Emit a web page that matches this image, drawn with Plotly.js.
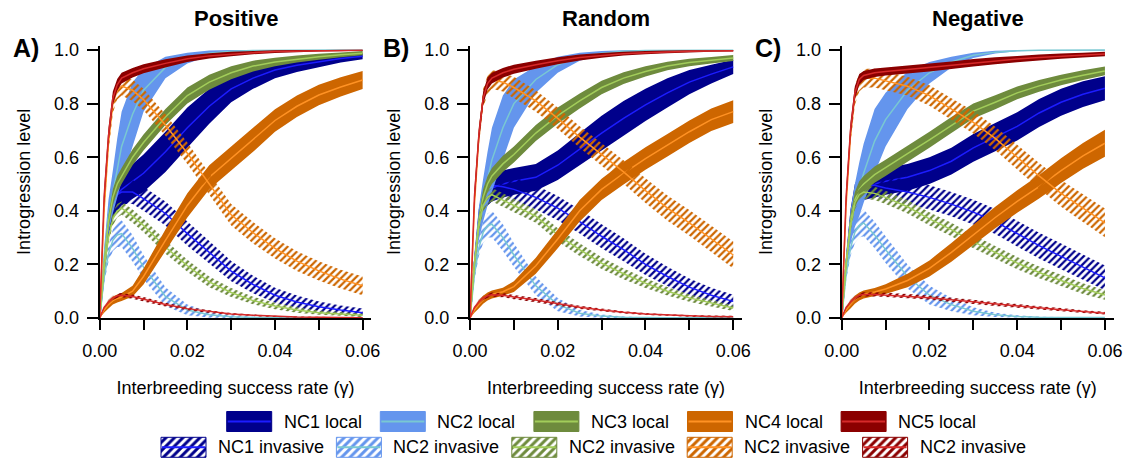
<!DOCTYPE html>
<html><head><meta charset="utf-8">
<script src="https://cdn.plot.ly/plotly-3.0.1.min.js"></script>
<style>html,body{margin:0;padding:0;background:#fff}#chart{width:1128px;height:464px}</style>
</head><body><div id="chart"></div>
<script>
// ---------------- DATA ----------------
const gammaX = [0,0.001,0.002,0.003,0.004,0.005,0.0075,0.01,0.015,0.02,0.025,0.03,0.035,0.04,0.045,0.05,0.055,0.06];
const panelTitles = ['Positive','Random','Negative'];
const panelLabels = ['A)','B)','C)'];
const localNames = ['NC1 local','NC2 local','NC3 local','NC4 local','NC5 local'];
const invasiveNames = ['NC1 invasive','NC2 invasive','NC2 invasive','NC2 invasive','NC2 invasive'];
const xTickVals = [0,0.01,0.02,0.03,0.04,0.05,0.06];
const xTickText = ['0.00','','0.02','','0.04','','0.06'];
const yTickVals = [0,0.2,0.4,0.6,0.8,1.0];
const xTitle = 'Interbreeding success rate (\u03b3)';
const yTitle = 'Introgression level';

// Panel A: Positive  (mean and half-width of the band)
const posNC1LocalMean = [0,0.2,0.36,0.43,0.46,0.48,0.51,0.54,0.62,0.71,0.79,0.855,0.895,0.925,0.943,0.956,0.968,0.977];
const posNC1LocalHW   = [0,0.03,0.05,0.06,0.06,0.06,0.065,0.07,0.075,0.075,0.065,0.05,0.04,0.03,0.025,0.02,0.015,0.012];
const posNC1InvMean   = [0,0.18,0.33,0.42,0.46,0.47,0.47,0.445,0.39,0.315,0.245,0.175,0.125,0.085,0.06,0.042,0.03,0.02];
const posNC1InvHW     = [0,0.02,0.03,0.04,0.045,0.045,0.045,0.045,0.045,0.045,0.042,0.038,0.033,0.028,0.024,0.02,0.017,0.015];
const posNC2LocalMean = [0,0.22,0.38,0.47,0.56,0.64,0.76,0.85,0.935,0.97,0.988,0.995,0.998,0.999,0.999,1,1,1];
const posNC2LocalHW   = [0,0.04,0.06,0.08,0.11,0.13,0.12,0.08,0.04,0.02,0.01,0.005,0.002,0.002,0.002,0.002,0.002,0.002];
const posNC2InvMean   = [0,0.15,0.24,0.29,0.31,0.315,0.26,0.19,0.08,0.03,0.012,0.005,0.002,0.001,0.001,0.001,0.001,0.001];
const posNC2InvHW     = [0,0.02,0.03,0.04,0.045,0.05,0.05,0.045,0.035,0.02,0.01,0.005,0.003,0.002,0.002,0.002,0.002,0.002];
const posNC3LocalMean = [0,0.2,0.36,0.45,0.5,0.53,0.6,0.655,0.75,0.83,0.88,0.915,0.94,0.955,0.966,0.975,0.982,0.988];
const posNC3LocalHW   = [0,0.02,0.025,0.03,0.03,0.03,0.03,0.03,0.03,0.03,0.028,0.024,0.02,0.016,0.013,0.011,0.009,0.008];
const posNC3InvMean   = [0,0.18,0.3,0.37,0.4,0.41,0.38,0.345,0.265,0.195,0.135,0.095,0.065,0.045,0.03,0.02,0.015,0.01];
const posNC3InvHW     = [0,0.015,0.02,0.025,0.025,0.025,0.025,0.025,0.025,0.022,0.02,0.017,0.014,0.012,0.01,0.008,0.007,0.006];
const posNC4LocalMean = [0,0.03,0.05,0.065,0.073,0.078,0.1,0.155,0.29,0.42,0.525,0.595,0.665,0.737,0.79,0.832,0.862,0.888];
const posNC4LocalHW   = [0,0.01,0.015,0.015,0.015,0.015,0.02,0.03,0.04,0.045,0.045,0.045,0.045,0.042,0.04,0.038,0.036,0.034];
const posNC4InvMean   = [0,0.4,0.65,0.8,0.85,0.865,0.85,0.815,0.72,0.615,0.5,0.385,0.318,0.26,0.212,0.176,0.145,0.12];
const posNC4InvHW     = [0,0.02,0.03,0.035,0.035,0.035,0.04,0.04,0.04,0.04,0.04,0.04,0.04,0.038,0.037,0.036,0.035,0.035];
const posNC5LocalMean = [0,0.45,0.68,0.82,0.87,0.895,0.915,0.93,0.95,0.967,0.978,0.985,0.99,0.994,0.996,0.997,0.998,0.999];
const posNC5LocalHW   = [0,0.03,0.03,0.025,0.022,0.02,0.018,0.017,0.015,0.012,0.01,0.008,0.006,0.005,0.004,0.003,0.003,0.002];
const posNC5InvMean   = [0,0.04,0.06,0.075,0.083,0.085,0.08,0.07,0.05,0.035,0.024,0.015,0.01,0.006,0.004,0.003,0.002,0.001];
const posNC5InvHW     = [0,0.005,0.008,0.008,0.008,0.008,0.008,0.008,0.007,0.006,0.005,0.004,0.003,0.002,0.002,0.002,0.001,0.001];

// Panel B: Random
const rndNC1LocalMean = [0,0.2,0.36,0.44,0.47,0.485,0.5,0.51,0.525,0.57,0.63,0.69,0.745,0.795,0.84,0.88,0.91,0.937];
const rndNC1LocalHW   = [0,0.03,0.045,0.05,0.05,0.05,0.05,0.05,0.05,0.055,0.06,0.065,0.065,0.06,0.055,0.045,0.035,0.027];
const rndNC1InvMean   = [0,0.2,0.36,0.45,0.485,0.495,0.49,0.48,0.45,0.41,0.36,0.305,0.255,0.2,0.155,0.115,0.085,0.062];
const rndNC1InvHW     = [0,0.02,0.035,0.04,0.045,0.045,0.045,0.045,0.045,0.045,0.045,0.045,0.043,0.04,0.036,0.032,0.028,0.025];
const rndNC2LocalMean = [0,0.2,0.35,0.44,0.52,0.59,0.71,0.8,0.89,0.945,0.975,0.988,0.995,0.998,0.999,0.999,0.999,0.999];
const rndNC2LocalHW   = [0,0.04,0.06,0.08,0.1,0.12,0.12,0.09,0.05,0.03,0.015,0.008,0.004,0.002,0.002,0.002,0.002,0.002];
const rndNC2InvMean   = [0,0.16,0.26,0.32,0.345,0.35,0.3,0.235,0.12,0.05,0.018,0.007,0.003,0.001,0.001,0.001,0.001,0.001];
const rndNC2InvHW     = [0,0.02,0.03,0.04,0.045,0.05,0.05,0.045,0.035,0.025,0.012,0.006,0.003,0.002,0.002,0.002,0.002,0.002];
const rndNC3LocalMean = [0,0.2,0.36,0.45,0.5,0.53,0.575,0.61,0.69,0.755,0.81,0.86,0.895,0.92,0.94,0.953,0.962,0.97];
const rndNC3LocalHW   = [0,0.02,0.025,0.03,0.03,0.03,0.03,0.03,0.03,0.03,0.028,0.025,0.022,0.019,0.016,0.014,0.012,0.011];
const rndNC3InvMean   = [0,0.2,0.34,0.42,0.45,0.46,0.44,0.42,0.38,0.31,0.255,0.205,0.165,0.13,0.1,0.075,0.055,0.037];
const rndNC3InvHW     = [0,0.015,0.02,0.025,0.025,0.025,0.025,0.025,0.025,0.025,0.024,0.022,0.02,0.018,0.016,0.014,0.012,0.011];
const rndNC4LocalMean = [0,0.03,0.05,0.068,0.08,0.088,0.098,0.117,0.195,0.295,0.4,0.48,0.54,0.595,0.645,0.695,0.74,0.77];
const rndNC4LocalHW   = [0,0.01,0.015,0.015,0.015,0.015,0.015,0.02,0.03,0.035,0.04,0.04,0.042,0.042,0.042,0.042,0.042,0.042];
const rndNC4InvMean   = [0,0.42,0.67,0.82,0.87,0.89,0.88,0.86,0.81,0.745,0.675,0.61,0.545,0.475,0.41,0.355,0.295,0.235];
const rndNC4InvHW     = [0,0.02,0.03,0.035,0.035,0.035,0.035,0.04,0.04,0.04,0.04,0.042,0.044,0.046,0.047,0.048,0.049,0.05];
const rndNC5LocalMean = [0,0.45,0.68,0.82,0.875,0.895,0.915,0.928,0.945,0.96,0.972,0.98,0.986,0.99,0.993,0.995,0.996,0.997];
const rndNC5LocalHW   = [0,0.03,0.03,0.025,0.022,0.02,0.018,0.017,0.015,0.013,0.011,0.009,0.007,0.006,0.005,0.004,0.003,0.003];
const rndNC5InvMean   = [0,0.04,0.06,0.075,0.083,0.087,0.085,0.078,0.067,0.053,0.04,0.03,0.021,0.015,0.011,0.008,0.006,0.005];
const rndNC5InvHW     = [0,0.005,0.008,0.008,0.008,0.008,0.008,0.008,0.008,0.007,0.006,0.005,0.004,0.004,0.003,0.003,0.003,0.003];

// Panel C: Negative
const negNC1LocalMean = [0,0.2,0.36,0.45,0.48,0.49,0.5,0.51,0.525,0.55,0.585,0.635,0.675,0.715,0.765,0.805,0.835,0.857];
const negNC1LocalHW   = [0,0.03,0.045,0.05,0.05,0.05,0.05,0.05,0.05,0.05,0.05,0.052,0.053,0.053,0.052,0.05,0.048,0.045];
const negNC1InvMean   = [0,0.2,0.36,0.45,0.485,0.495,0.495,0.485,0.47,0.45,0.425,0.395,0.36,0.315,0.27,0.23,0.19,0.15];
const negNC1InvHW     = [0,0.02,0.035,0.04,0.045,0.045,0.045,0.045,0.045,0.045,0.045,0.046,0.047,0.048,0.048,0.048,0.047,0.046];
const negNC2LocalMean = [0,0.2,0.34,0.42,0.48,0.54,0.66,0.74,0.85,0.915,0.955,0.98,0.992,0.997,0.999,1,1,1];
const negNC2LocalHW   = [0,0.04,0.06,0.08,0.1,0.11,0.12,0.1,0.07,0.04,0.02,0.01,0.005,0.002,0.002,0.002,0.002,0.002];
const negNC2InvMean   = [0,0.16,0.26,0.32,0.345,0.355,0.31,0.255,0.155,0.085,0.05,0.025,0.012,0.006,0.003,0.002,0.002,0.002];
const negNC2InvHW     = [0,0.02,0.03,0.04,0.045,0.05,0.05,0.05,0.045,0.035,0.025,0.015,0.008,0.004,0.002,0.002,0.002,0.002];
const negNC3LocalMean = [0,0.2,0.36,0.44,0.48,0.5,0.535,0.56,0.613,0.665,0.72,0.772,0.805,0.84,0.866,0.888,0.906,0.922];
const negNC3LocalHW   = [0,0.02,0.025,0.03,0.03,0.03,0.03,0.03,0.03,0.03,0.03,0.028,0.026,0.024,0.022,0.02,0.018,0.016];
const negNC3InvMean   = [0,0.2,0.34,0.43,0.46,0.47,0.465,0.45,0.415,0.37,0.33,0.285,0.245,0.205,0.17,0.14,0.11,0.086];
const negNC3InvHW     = [0,0.015,0.02,0.025,0.025,0.025,0.025,0.025,0.025,0.025,0.025,0.025,0.024,0.023,0.022,0.021,0.02,0.018];
const negNC4LocalMean = [0,0.03,0.05,0.068,0.08,0.088,0.097,0.108,0.14,0.185,0.245,0.31,0.375,0.435,0.49,0.55,0.605,0.652];
const negNC4LocalHW   = [0,0.01,0.015,0.015,0.015,0.015,0.015,0.018,0.025,0.03,0.035,0.038,0.04,0.042,0.044,0.046,0.048,0.05];
const negNC4InvMean   = [0,0.42,0.68,0.83,0.88,0.895,0.895,0.885,0.865,0.83,0.78,0.73,0.67,0.6,0.53,0.465,0.41,0.355];
const negNC4InvHW     = [0,0.02,0.03,0.035,0.035,0.035,0.035,0.035,0.035,0.038,0.04,0.042,0.044,0.046,0.048,0.05,0.052,0.054];
const negNC5LocalMean = [0,0.45,0.7,0.84,0.89,0.905,0.915,0.92,0.927,0.935,0.943,0.952,0.96,0.966,0.972,0.977,0.981,0.985];
const negNC5LocalHW   = [0,0.03,0.03,0.025,0.02,0.017,0.016,0.015,0.015,0.015,0.014,0.014,0.013,0.012,0.011,0.01,0.009,0.008];
const negNC5InvMean   = [0,0.04,0.06,0.075,0.085,0.088,0.088,0.086,0.082,0.076,0.068,0.06,0.052,0.045,0.038,0.031,0.024,0.018];
const negNC5InvHW     = [0,0.005,0.008,0.008,0.008,0.008,0.008,0.008,0.008,0.008,0.008,0.008,0.007,0.007,0.006,0.006,0.005,0.005];

// ---------------- STYLE ----------------
const fillColors = ['#00008B','#6495ED','#6E8B3D','#CD6600','#8B0000'];
const lineColors = ['#1C1CFF','#79C8D2','#A2CD5A','#FF9224','#D62A2A'];
const FONT = 'Liberation Sans, Arial, Helvetica, sans-serif';
const W = 1128, H = 464;

const panels = [
  {ax:'', local:[[posNC1LocalMean,posNC1LocalHW],[posNC2LocalMean,posNC2LocalHW],[posNC3LocalMean,posNC3LocalHW],[posNC4LocalMean,posNC4LocalHW],[posNC5LocalMean,posNC5LocalHW]],
          inv:[[posNC1InvMean,posNC1InvHW],[posNC2InvMean,posNC2InvHW],[posNC3InvMean,posNC3InvHW],[posNC4InvMean,posNC4InvHW],[posNC5InvMean,posNC5InvHW]]},
  {ax:'2', local:[[rndNC1LocalMean,rndNC1LocalHW],[rndNC2LocalMean,rndNC2LocalHW],[rndNC3LocalMean,rndNC3LocalHW],[rndNC4LocalMean,rndNC4LocalHW],[rndNC5LocalMean,rndNC5LocalHW]],
          inv:[[rndNC1InvMean,rndNC1InvHW],[rndNC2InvMean,rndNC2InvHW],[rndNC3InvMean,rndNC3InvHW],[rndNC4InvMean,rndNC4InvHW],[rndNC5InvMean,rndNC5InvHW]]},
  {ax:'3', local:[[negNC1LocalMean,negNC1LocalHW],[negNC2LocalMean,negNC2LocalHW],[negNC3LocalMean,negNC3LocalHW],[negNC4LocalMean,negNC4LocalHW],[negNC5LocalMean,negNC5LocalHW]],
          inv:[[negNC1InvMean,negNC1InvHW],[negNC2InvMean,negNC2InvHW],[negNC3InvMean,negNC3InvHW],[negNC4InvMean,negNC4InvHW],[negNC5InvMean,negNC5InvHW]]}
];

function bandTrace(mean, hw, ax, k, hatched) {
  const hi = mean.map((m,i)=>Math.min(1, m+hw[i]));
  const lo = mean.map((m,i)=>Math.max(0, m-hw[i]));
  const t = {type:'scatter', x: gammaX.concat(gammaX.slice().reverse()), y: hi.concat(lo.slice().reverse()),
    xaxis:'x'+ax, yaxis:'y'+ax, mode:'none', fill:'toself', fillcolor: fillColors[k],
    hoverinfo:'skip', showlegend:false};
  if (hatched) t.fillpattern = {shape:'/', fgcolor: fillColors[k], size:5, solidity:0.45};
  return t;
}
function lineTrace(mean, ax, k) {
  return {type:'scatter', x: gammaX, y: mean, xaxis:'x'+ax, yaxis:'y'+ax, mode:'lines',
    line:{color: lineColors[k], width:1.5}, hoverinfo:'skip', showlegend:false};
}

const traces = [];
panels.forEach(p => {
  for (let k=0;k<5;k++){
    traces.push(bandTrace(p.local[k][0], p.local[k][1], p.ax, k, false));
    traces.push(lineTrace(p.local[k][0], p.ax, k));
    traces.push(bandTrace(p.inv[k][0], p.inv[k][1], p.ax, k, true));
    traces.push(lineTrace(p.inv[k][0], p.ax, k));
  }
});

// ---------------- LEGEND (drawn on a hidden pixel axis) ----------------
const legRows = [
  {names: localNames, x0: 226.7, step: 153.6, yc: 421.5, hatched:false},
  {names: invasiveNames, x0: 161, step: 175.4, yc: 447.3, hatched:true}
];
const BW = 45, BH = 20;
const annotations = [];
legRows.forEach(r => {
  r.names.forEach((nm,k) => {
    const x0 = r.x0 + k*r.step, x1 = x0 + BW, y0 = r.yc - BH/2, y1 = r.yc + BH/2;
    const box = {type:'scatter', x:[x0,x1,x1,x0,x0], y:[y0,y0,y1,y1,y0], xaxis:'x4', yaxis:'y4',
      mode:'lines', fill:'toself', fillcolor: fillColors[k], line:{color: fillColors[k], width:1},
      hoverinfo:'skip', showlegend:false};
    if (r.hatched) box.fillpattern = {shape:'/', fgcolor: fillColors[k], size:6, solidity:0.5};
    traces.push(box);
    traces.push({type:'scatter', x:[x0+1,x1-1], y:[r.yc,r.yc], xaxis:'x4', yaxis:'y4', mode:'lines',
      line:{color: lineColors[k], width:2}, hoverinfo:'skip', showlegend:false});
    annotations.push({xref:'paper', yref:'paper', x:(x1+10)/W, y:1-r.yc/H, xanchor:'left', yanchor:'middle',
      text:nm, showarrow:false, font:{family:FONT, size:18, color:'#000'}});
  });
});

// ---------------- LAYOUT ----------------
const xDomains = [[99.7/W, 371.4/W],[470/W, 742/W],[841.7/W, 1113.7/W]];
const yDomain = [1-318/H, 1-45.7/H];
const layout = {width:W, height:H, margin:{l:0,r:0,t:0,b:0}, paper_bgcolor:'#fff', plot_bgcolor:'#fff',
  font:{family:FONT, size:18, color:'#000'}, showlegend:false, annotations: annotations};
const axSuffix = ['', '2', '3'];
axSuffix.forEach((s,i) => {
  layout['xaxis'+s] = {domain: xDomains[i], anchor:'y'+s, range:[0,0.062], tickmode:'array', tickvals:xTickVals, ticktext:xTickText,
    ticks:'outside', ticklen:10, tickwidth:2, tickcolor:'#000', showline:true, linewidth:2, linecolor:'#000',
    showgrid:false, zeroline:false, fixedrange:true, automargin:false, ticklabelstandoff:5,
    tickfont:{family:FONT, size:18, color:'#000'},
    title:{text:xTitle, font:{family:FONT, size:18, color:'#000'}, standoff:22}};
  layout['yaxis'+s] = {domain: yDomain, anchor:'x'+s, range:[0,1.016], tickmode:'array', tickvals:yTickVals, tickformat:'.1f',
    ticks:'outside', ticklen:11, tickwidth:2, tickcolor:'#000', showline:true, linewidth:2, linecolor:'#000',
    showgrid:false, zeroline:false, fixedrange:true, automargin:false, ticklabelstandoff:4,
    tickfont:{family:FONT, size:18, color:'#000'},
    title:{text:yTitle, font:{family:FONT, size:18, color:'#000'}, standoff:19}};
  const cx = (xDomains[i][0]+xDomains[i][1])/2;
  annotations.push({xref:'paper', yref:'paper', x:cx, y:1-18/H, xanchor:'center', yanchor:'middle',
    text:'<b>'+panelTitles[i]+'</b>', showarrow:false, font:{family:FONT, size:22, color:'#000'}});
  annotations.push({xref:'paper', yref:'paper', x:(xDomains[i][0]*W-74)/W, y:1-48/H, xanchor:'center', yanchor:'middle',
    text:'<b>'+panelLabels[i]+'</b>', showarrow:false, font:{family:FONT, size:25, color:'#000'}});
});
layout.xaxis4 = {domain:[0,1], anchor:'y4', range:[0,W], visible:false, fixedrange:true};
layout.yaxis4 = {domain:[0,64/H], anchor:'x4', range:[H,400], visible:false, fixedrange:true};

Plotly.newPlot('chart', traces, layout, {displayModeBar:false, staticPlot:true});
</script></body></html>
